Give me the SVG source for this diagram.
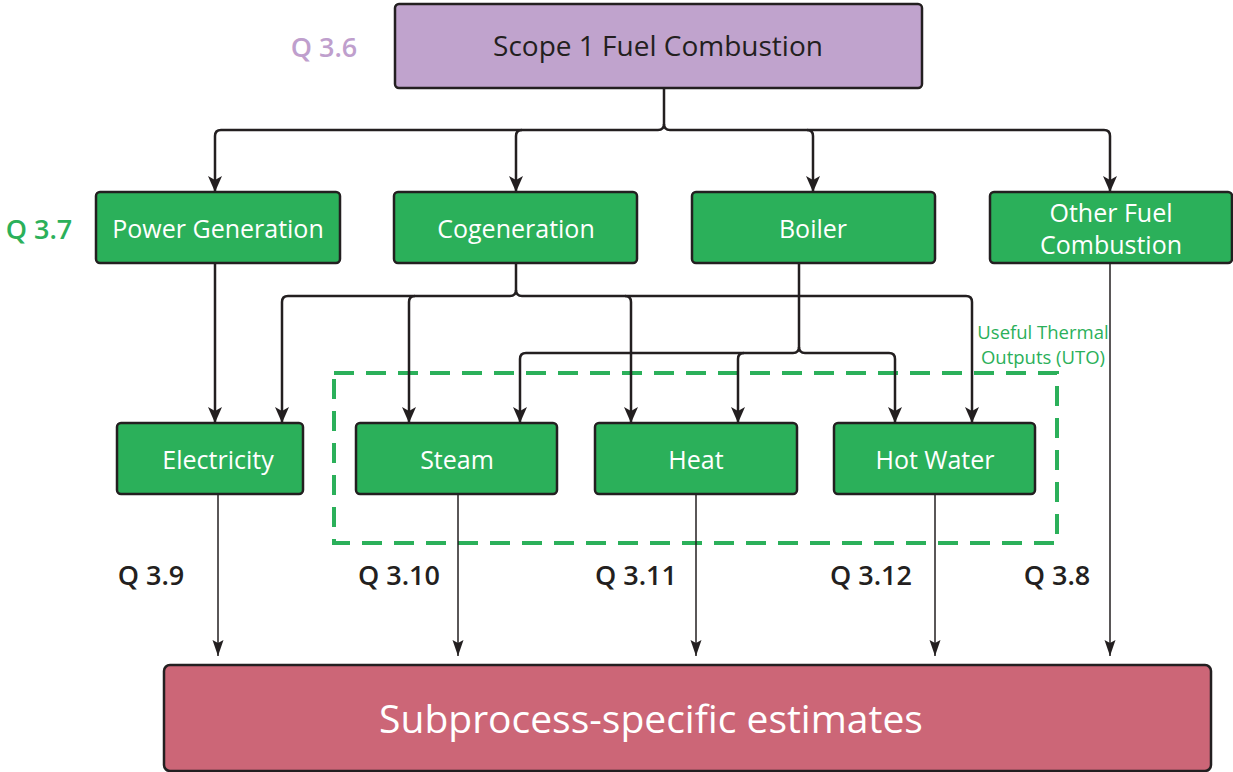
<svg xmlns="http://www.w3.org/2000/svg" width="1233" height="772" viewBox="0 0 1233 772">
<style>
text{font-family:"Open Sans","Noto Sans","Liberation Sans",sans-serif;dominant-baseline:central;text-anchor:middle}
.box{stroke:#231f20;stroke-width:2.5}
.g{fill:#2bb05a}
.wt{fill:#fff;font-size:25px}
.q{font-size:27px;font-weight:600;fill:#231f20}
.c{fill:none;stroke:#231f20;stroke-width:2.5}
.t{fill:none;stroke:#231f20;stroke-width:1.5}
</style>
<defs>
<marker id="ah" markerUnits="userSpaceOnUse" markerWidth="16" markerHeight="16" viewBox="0 0 16 16" refX="16" refY="8" orient="auto">
<path d="M0,1 L16,8 L0,15 L4,8 z" fill="#231f20"/>
</marker>
<marker id="ah2" markerUnits="userSpaceOnUse" markerWidth="16" markerHeight="12" viewBox="0 0 16 12" refX="16" refY="6" orient="auto">
<path d="M0,0.5 L16,6 L0,11.5 L3,6 z" fill="#231f20"/>
</marker>
</defs>

<g id="scope1">
<rect class="box" x="395" y="4" width="527" height="84" rx="4" fill="#c0a3cd"/>
<text x="658" y="45" font-size="28" fill="#231f20">Scope 1 Fuel Combustion</text>
</g>
<text x="324" y="46" font-size="27" font-weight="600" fill="#bf9fcd">Q 3.6</text>
<text x="39" y="228" font-size="27" font-weight="600" fill="#2bb05a">Q 3.7</text>

<g id="power"><rect class="box g" x="96" y="192" width="244" height="71" rx="4"/><text class="wt" x="218" y="228">Power Generation</text></g>
<g id="cogen"><rect class="box g" x="394" y="192" width="243" height="71" rx="4"/><text class="wt" x="516" y="228">Cogeneration</text></g>
<g id="boiler"><rect class="box g" x="692" y="192" width="243" height="71" rx="4"/><text class="wt" x="813" y="228">Boiler</text></g>
<g id="other"><rect class="box g" x="990" y="192" width="242" height="71" rx="4"/><text class="wt" x="1111" y="212">Other Fuel</text><text class="wt" x="1111" y="244">Combustion</text></g>

<g id="uto">
<rect x="334" y="373" width="723" height="170" fill="none" stroke="#2bb05a" stroke-width="4" stroke-dasharray="20 12"/>
<text x="1043" y="331" font-size="18.5" fill="#2bb05a">Useful Thermal</text>
<text x="1043" y="356" font-size="18.5" fill="#2bb05a">Outputs (UTO)</text>
</g>

<g id="electricity"><rect class="box g" x="117" y="423" width="186" height="71" rx="4"/><text class="wt" x="218" y="459">Electricity</text></g>
<g id="steam"><rect class="box g" x="356" y="423" width="201" height="71" rx="4"/><text class="wt" x="457" y="459">Steam</text></g>
<g id="heat"><rect class="box g" x="595" y="423" width="202" height="71" rx="4"/><text class="wt" x="696" y="459">Heat</text></g>
<g id="hotwater"><rect class="box g" x="834" y="423" width="201" height="71" rx="4"/><text class="wt" x="935" y="459">Hot Water</text></g>

<g id="estimates"><rect class="box" x="164" y="665" width="1047" height="106" rx="6" fill="#cc6677"/><text x="651" y="717" font-size="39" fill="#fff">Subprocess-specific estimates</text></g>

<g id="qlabels">
<text class="q" x="151" y="574">Q 3.9</text>
<text class="q" x="399" y="574">Q 3.10</text>
<text class="q" x="636" y="574">Q 3.11</text>
<text class="q" x="871" y="574">Q 3.12</text>
<text class="q" x="1057" y="574">Q 3.8</text>
</g>

<g id="connectors">
<path class="c" d="M664,88 V124 Q664,130 658,130 H221 Q215,130 215,136 V192" marker-end="url(#ah)"/>
<path class="c" d="M664,124 Q664,130 670,130 H1104 Q1110,130 1110,136 V192" marker-end="url(#ah)"/>
<path class="c" d="M522,130 Q516,130 516,136 V192" marker-end="url(#ah)"/>
<path class="c" d="M807,130 Q813,130 813,136 V192" marker-end="url(#ah)"/>

<path class="c" d="M516,263 V290 Q516,296 510,296 H288 Q282,296 282,302 V423" marker-end="url(#ah)"/>
<path class="c" d="M516,290 Q516,296 522,296 H966 Q972,296 972,302 V423" marker-end="url(#ah)"/>
<path class="c" d="M415,296 Q409,296 409,302 V423" marker-end="url(#ah)"/>
<path class="c" d="M625,296 Q631,296 631,302 V423" marker-end="url(#ah)"/>

<path class="c" d="M799,263 V347 Q799,353 793,353 H526 Q520,353 520,359 V423" marker-end="url(#ah)"/>
<path class="c" d="M799,347 Q799,353 805,353 H889 Q895,353 895,359 V423" marker-end="url(#ah)"/>
<path class="c" d="M744,353 Q738,353 738,359 V423" marker-end="url(#ah)"/>

<path class="c" d="M215,263 V423" stroke-width="2" marker-end="url(#ah)"/>

<path class="t" d="M218,494 V656" marker-end="url(#ah2)"/>
<path class="t" d="M458,494 V656" marker-end="url(#ah2)"/>
<path class="t" d="M696,494 V656" marker-end="url(#ah2)"/>
<path class="t" d="M935,494 V656" marker-end="url(#ah2)"/>
<path class="t" d="M1110,263 V656" marker-end="url(#ah2)"/>
</g>
</svg>
